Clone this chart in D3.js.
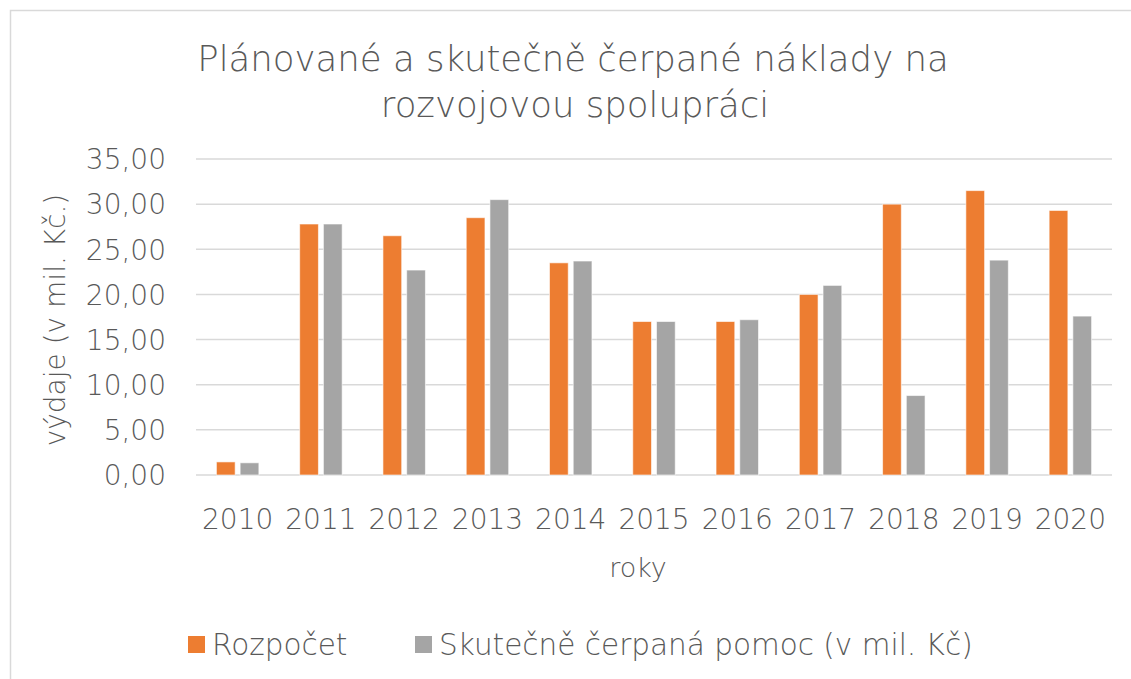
<!DOCTYPE html>
<html>
<head>
<meta charset="utf-8">
<script src="https://cdn.jsdelivr.net/npm/d3@7"></script>
<style>
  body { margin: 0; background: #fff; }
  text { font-family: "DejaVu Sans ExtraLight", "DejaVu Sans", sans-serif; font-weight: 200; fill: #595959; }
</style>
</head>
<body>
<svg id="chart" width="1131" height="679"></svg>
<script>
const years = ['2010', '2011', '2012', '2013', '2014', '2015', '2016', '2017', '2018', '2019', '2020'];
const series = ['Rozpočet', 'Skutečně čerpaná pomoc (v mil. Kč)'];
const rozpocet = [1.45, 27.8, 26.5, 28.5, 23.5, 17.0, 17.0, 20.0, 30.0, 31.5, 29.3];
const cerpano = [1.35, 27.8, 22.7, 30.5, 23.7, 17.0, 17.2, 21.0, 8.8, 23.8, 17.6];
const yTicks = [0, 5, 10, 15, 20, 25, 30, 35];
const colors = ['#ED7D31', '#A5A5A5'];

const width = 1131;
const height = 679;
const plot = { left: 196, right: 1112, top: 159, bottom: 475 };

const rows = years.map((y, i) => ({ year: y, values: [rozpocet[i], cerpano[i]] }));

const svg = d3.select('#chart');

// chart frame
svg.append('path')
  .attr('d', `M10.5,${height} V10.5 H${width}`)
  .attr('fill', 'none')
  .attr('stroke', '#d9d9d9')
  .attr('stroke-width', 1.5);

const x = d3.scaleBand()
  .domain(years)
  .range([plot.left, plot.right]);

const xSub = d3.scaleBand()
  .domain(series)
  .range([0, x.bandwidth()])
  .paddingInner(0.21)
  .paddingOuter(0.86);

const y = d3.scaleLinear()
  .domain([0, 35])
  .range([plot.bottom, plot.top]);

const fmt = (d) => d3.format('.2f')(d).replace('.', ',');

// gridlines
svg.append('g')
  .selectAll('line')
  .data(yTicks)
  .enter()
  .append('line')
  .attr('x1', plot.left)
  .attr('x2', plot.right)
  .attr('y1', (d) => y(d))
  .attr('y2', (d) => y(d))
  .attr('stroke', '#d9d9d9')
  .attr('stroke-width', 1.5);

// y axis labels
const leftAxis = d3.axisLeft(y).tickValues(yTicks).tickFormat(fmt).tickSize(0).tickPadding(0);
const yAxis = svg.append('g')
  .attr('transform', `translate(166, 0)`)
  .call(leftAxis);
yAxis.select('.domain').remove();
yAxis.selectAll('text')
  .attr('font-size', 28)
  .attr('font-family', null)
  .attr('dy', '0.35em');

// x axis labels
const bottomAxis = d3.axisBottom(x).tickSize(0).tickPadding(0);
const xAxis = svg.append('g')
  .attr('transform', `translate(0, ${plot.bottom + 44})`)
  .call(bottomAxis);
xAxis.select('.domain').remove();
xAxis.selectAll('text')
  .attr('font-size', 28)
  .attr('font-family', null)
  .attr('dy', '0.35em');

// bars
const groups = svg.append('g')
  .selectAll('g')
  .data(rows)
  .enter()
  .append('g')
  .attr('transform', (d) => `translate(${x(d.year)}, 0)`);

groups.selectAll('rect')
  .data((d) => d.values.map((v, i) => ({ key: series[i], value: v, i })))
  .enter()
  .append('rect')
  .attr('x', (d) => xSub(d.key))
  .attr('y', (d) => y(d.value))
  .attr('width', xSub.bandwidth())
  .attr('height', (d) => y(0) - y(d.value))
  .attr('fill', (d) => colors[d.i])
  .attr('stroke', '#fff')
  .attr('stroke-opacity', 0.6)
  .attr('stroke-width', 1);

// title
const title = svg.append('text')
  .attr('text-anchor', 'middle')
  .attr('font-size', 35.5);
title.append('tspan').attr('x', 573).attr('y', 71).text('Plánované a skutečně čerpané náklady na');
title.append('tspan').attr('x', 575).attr('y', 117).text('rozvojovou spolupráci');

// axis titles
svg.append('text')
  .attr('transform', 'translate(55, 320) rotate(-90)')
  .attr('text-anchor', 'middle')
  .attr('dy', '0.35em')
  .attr('font-size', 28)
  .text('výdaje (v mil. Kč.)');

svg.append('text')
  .attr('x', 638)
  .attr('y', 568)
  .attr('text-anchor', 'middle')
  .attr('dy', '0.35em')
  .attr('font-size', 27)
  .text('roky');

// legend
const legend = svg.append('g').attr('transform', 'translate(0, 645)');
const legendX = [188, 415];
const items = legend.selectAll('g')
  .data(series)
  .enter()
  .append('g')
  .attr('transform', (d, i) => `translate(${legendX[i]}, 0)`);
items.append('rect')
  .attr('x', 0)
  .attr('y', -9)
  .attr('width', 17)
  .attr('height', 17)
  .attr('fill', (d, i) => colors[i]);
items.append('text')
  .attr('x', 24)
  .attr('dy', '0.35em')
  .attr('font-size', 29.5)
  .text((d) => d);
</script>
</body>
</html>
